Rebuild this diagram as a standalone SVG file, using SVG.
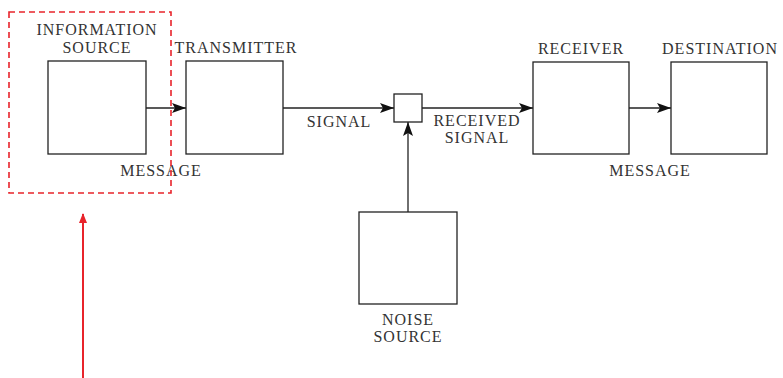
<svg xmlns="http://www.w3.org/2000/svg" width="783" height="378" viewBox="0 0 783 378">
<style>
.box{fill:#fff;stroke:#222;stroke-width:1.3}
.ln{fill:none;stroke:#222;stroke-width:1.3}
text{font-family:"Liberation Serif","Times New Roman",serif;font-size:16px;fill:#333;letter-spacing:1px;text-anchor:middle}
</style>
<defs>
<marker id="ah" viewBox="0 0 14 10" refX="14" refY="5" markerWidth="14" markerHeight="10" markerUnits="userSpaceOnUse" orient="auto">
<path d="M0,0 L14,5 L0,10 L3,5 Z" fill="#111"/>
</marker>
<marker id="ahr" viewBox="0 0 10 10" refX="9" refY="5" markerWidth="10" markerHeight="10" markerUnits="userSpaceOnUse" orient="auto">
<path d="M0,1 L10,5 L0,9 Z" fill="#e8242b"/>
</marker>
</defs>
<rect width="783" height="378" fill="#fff"/>
<g id="connectors">
<line class="ln" x1="146" y1="108" x2="186" y2="108" marker-end="url(#ah)"/>
<line class="ln" x1="283" y1="108" x2="394" y2="108" marker-end="url(#ah)"/>
<line class="ln" x1="422" y1="108" x2="533" y2="108" marker-end="url(#ah)"/>
<line class="ln" x1="629" y1="108" x2="671" y2="108" marker-end="url(#ah)"/>
<line class="ln" x1="408" y1="212" x2="408" y2="122" marker-end="url(#ah)"/>
<text x="161" y="176">MESSAGE</text>
<text x="339" y="127">SIGNAL</text>
<text x="477" y="126">RECEIVED</text>
<text x="477" y="143">SIGNAL</text>
<text x="650" y="176">MESSAGE</text>
</g>
<g id="information-source">
<rect class="box" x="48" y="61" width="98" height="93"/>
<text x="97" y="35">INFORMATION</text>
<text x="97" y="53">SOURCE</text>
</g>
<g id="transmitter">
<rect class="box" x="186" y="61" width="97" height="93"/>
<text x="236" y="53">TRANSMITTER</text>
</g>
<g id="mixer">
<rect class="box" x="394" y="94" width="28" height="28"/>
</g>
<g id="receiver">
<rect class="box" x="533" y="62" width="96" height="92"/>
<text x="581" y="54">RECEIVER</text>
</g>
<g id="destination">
<rect class="box" x="671" y="62" width="96" height="92"/>
<text x="720" y="54">DESTINATION</text>
</g>
<g id="noise-source">
<rect class="box" x="359" y="212" width="98" height="92"/>
<text x="408" y="325">NOISE</text>
<text x="408" y="342">SOURCE</text>
</g>
<g id="highlight">
<rect x="9" y="12" width="162" height="181" fill="none" stroke="#e8242b" stroke-width="1.6" stroke-dasharray="6,4"/>
<line x1="83" y1="378" x2="83" y2="214" stroke="#e8242b" stroke-width="2" marker-end="url(#ahr)"/>
</g>
</svg>
